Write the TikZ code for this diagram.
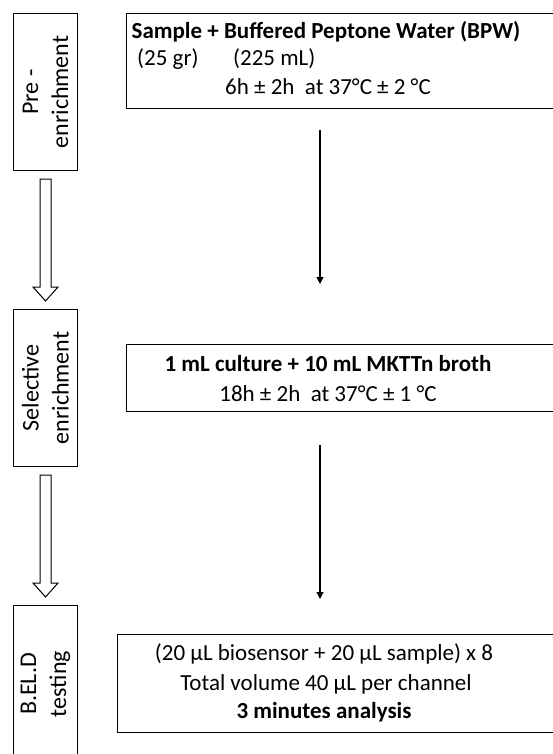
\documentclass[tikz,border=0pt]{standalone}
\usepackage{fontspec}
\setmainfont{Carlito}
\usetikzlibrary{arrows.meta, calc, positioning}
\tikzstyle{stagebox} = [draw, line width=1pt, anchor=north west, inner sep=0pt, minimum width=64pt, minimum height=157pt]
\tikzstyle{stepbox} = [draw, line width=1pt, anchor=north west, inner sep=0pt]
\tikzstyle{stagetxt} = [rotate=90, align=center, inner sep=0pt, font=\fontsize{24}{30}\selectfont]
\tikzstyle{txt} = [anchor=base, inner sep=0pt, font=\fontsize{23}{29}\selectfont]
\tikzstyle{btxt} = [anchor=base, inner sep=0pt, font=\fontsize{23}{29}\selectfont\bfseries]
\tikzstyle{line} = [draw, line width=1.3pt, -{Triangle[length=7pt, width=7pt]}]
\tikzstyle{hollow} = [draw, line width=1pt, fill=white]

\begin{document}
\begin{tikzpicture}[x=1pt, y=-1pt]
			\useasboundingbox (0, 0) rectangle (553, 754);
			\clip (0, 0) rectangle (553, 754);
			% stages on the left
			\node [stagebox] (pre) at (13, 13) {};
			\node [stagebox] (sel) at (13, 309) {};
			\node [stagebox] (bel) at (13, 605) {};
			\node [stagetxt] (pretxt) at (pre.center) {Pre -\\enrichment};
			\node [stagetxt] (seltxt) at (sel.center) {Selective\\enrichment};
			\node [stagetxt] (beltxt) at (bel.center) {B.EL.D\\testing};

			\foreach \a/\b in {pre/sel, sel/bel} {
				\path [hollow] ($(\a.south)+(-5.5, 8)$) -- ($(\a.south)+(5.5, 8)$)
					-- ($(\b.north)+(5.5, -22)$) -- ($(\b.north)+(12.5, -22)$)
					-- ($(\b.north)+(0, -8)$) -- ($(\b.north)+(-12.5, -22)$)
					-- ($(\b.north)+(-5.5, -22)$) -- cycle;
			}

			% steps on the right
			\node [stepbox, minimum width=440pt, minimum height=95pt] (bpw) at (126, 13) {};
			\node [stepbox, minimum width=440pt, minimum height=67pt] (mkttn) at (126, 344) {};
			\node [stepbox, minimum width=450pt, minimum height=98pt] (biosensor) at (117, 634) {};

			\node [btxt] (bpwa) at (326, 39) {Sample + Buffered Peptone Water (BPW)};
			\node [txt, anchor=base west] (bpwb) at (137, 66) {(25 gr)};
			\node [txt, anchor=base west] (bpwc) at (233, 66) {(225 mL)};
			\node [txt] (bpwd) at (328, 95) {6h ± 2h\ \ at 37°C ± 2 °C};

			\node [btxt] (mkttna) at (328, 371) {1 mL culture + 10 mL MKTTn broth};
			\node [txt] (mkttnb) at (328, 401) {18h ± 2h\ \ at 37°C ± 1 °C};

			\node [txt] (biosensora) at (324, 660) {(20 µL biosensor + 20 µL sample) x 8};
			\node [txt] (biosensorb) at (326, 690) {Total volume 40 µL per channel};
			\node [btxt] (biosensorc) at (324, 718) {3 minutes analysis};

			\coordinate (a1s) at (320, 130);
			\coordinate (a1e) at (320, 284);
			\coordinate (a2s) at (320, 445);
			\coordinate (a2e) at (320, 599);
			\path [line] (a1s) -- (a1e);
			\path [line] (a2s) -- (a2e);
		\end{tikzpicture}
\end{document}
